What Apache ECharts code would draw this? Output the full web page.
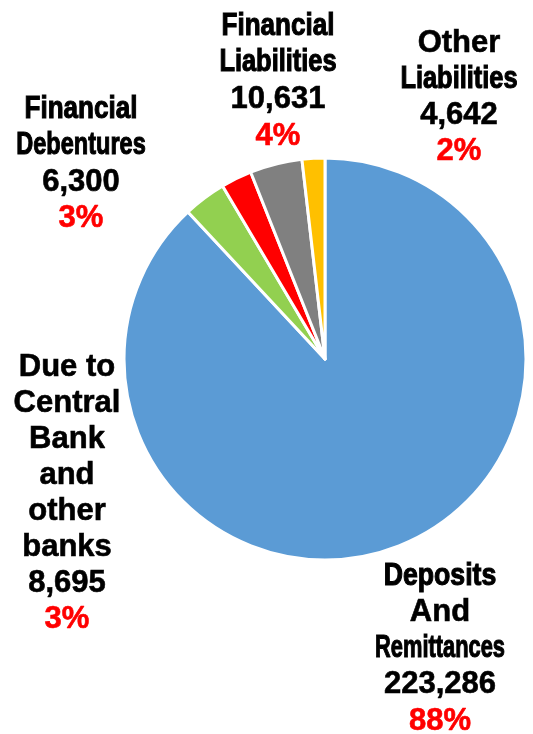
<!DOCTYPE html>
<html>
<head>
<meta charset="utf-8">
<script src="https://cdn.jsdelivr.net/npm/echarts@6/dist/echarts.min.js"></script>
<style>
  html, body { margin: 0; padding: 0; background: #fff; }
  #chart { width: 533px; height: 734px; }
</style>
</head>
<body>
<div id="chart"></div>
<script>
// Liability breakdown (values in millions)
const categories = [
  'Deposits And Remittances',
  'Due to Central Bank and other banks',
  'Financial Debentures',
  'Financial Liabilities',
  'Other Liabilities'
];
const values = [223286, 8695, 6300, 10631, 4642];
const percentLabels = ['88%', '3%', '3%', '4%', '2%'];
// Category names split into label lines
const nameLines = [
  ['Deposits', 'And', 'Remittances'],
  ['Due to', 'Central', 'Bank', 'and', 'other', 'banks'],
  ['Financial', 'Debentures'],
  ['Financial', 'Liabilities'],
  ['Other', 'Liabilities']
];
const colors = ['#5B9BD5', '#92D050', '#FF0000', '#808080', '#FFC000'];

// Label placement: block centre x, first line y, line step
const labelAnchor = [[440, 576, 36.3], [67, 367, 36], [81, 109, 36.5], [278, 26, 36.8], [459, 43, 36.3]];
// Horizontal squeeze applied to the long words so they fit their column
const squeeze = {
  'Financial': 0.84, 'Liabilities': 0.82, 'Debentures': 0.76,
  'Deposits': 0.86, 'Remittances': 0.705
};

const FONT = 'bold 31px "Liberation Sans", Arial, sans-serif';
const fmt = (n) => n.toLocaleString('en-US');

function labelBlock(i) {
  const [cx, y0, step] = labelAnchor[i];
  const lines = nameLines[i].map((t) => ({ t, color: '#000' }));
  lines.push({ t: fmt(values[i]), color: '#000' });
  lines.push({ t: percentLabels[i], color: '#FF0000' });
  return lines.map((ln, k) => {
    const sx = squeeze[ln.t] || 1;
    return {
      type: 'text',
      x: cx,
      y: y0 + k * step,
      scaleX: sx,
      silent: true,
      style: {
        text: ln.t,
        font: FONT,
        fill: ln.color,
        stroke: ln.color,
        lineWidth: sx < 1 ? 1.1 : 0.6,
        align: 'center',
        verticalAlign: 'middle'
      }
    };
  });
}

const chart = echarts.init(document.getElementById('chart'));
chart.setOption({
  animation: false,
  series: [{
    type: 'pie',
    center: [325, 359],
    radius: 201,
    startAngle: 90,
    clockwise: true,
    itemStyle: { borderColor: '#fff', borderWidth: 3 },
    label: { show: false },
    labelLine: { show: false },
    data: categories.map((name, i) => ({
      name,
      value: values[i],
      itemStyle: { color: colors[i] }
    }))
  }],
  graphic: categories.flatMap((_, i) => labelBlock(i))
});
</script>
</body>
</html>
